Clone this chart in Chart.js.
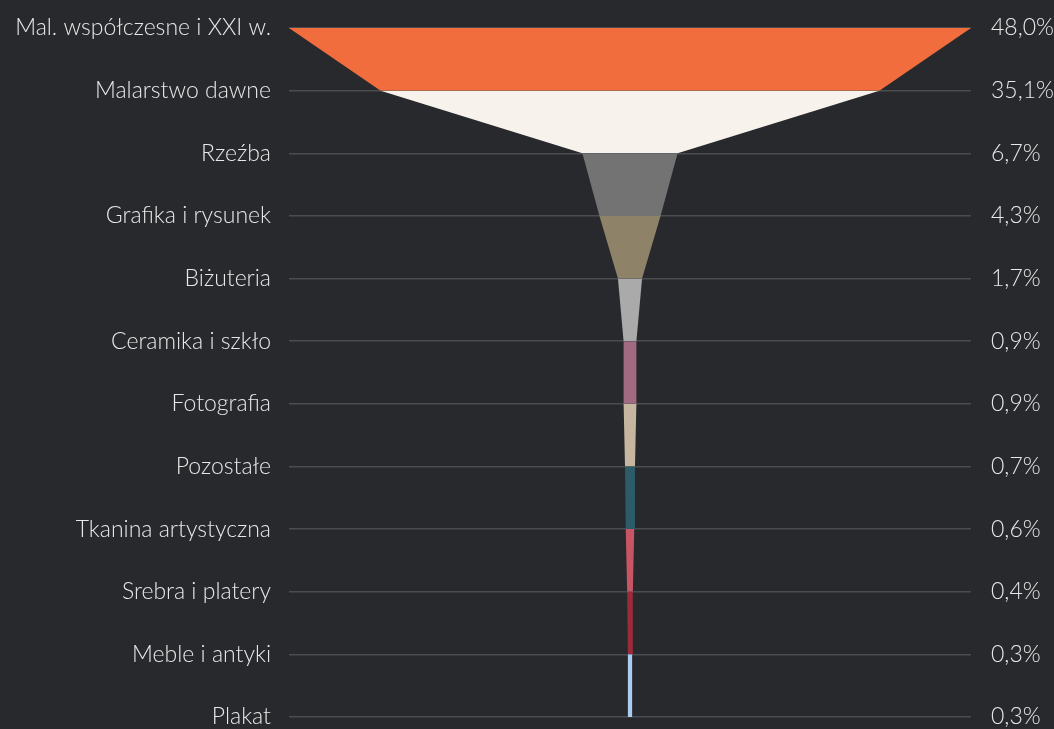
<!DOCTYPE html>
<html>
<head>
<meta charset="utf-8">
<script src="https://cdn.jsdelivr.net/npm/chart.js@4/dist/chart.umd.min.js"></script>
<style>
  html, body { margin: 0; padding: 0; background: #28292d; }
  #wrap { width: 1054px; height: 729px; }
</style>
</head>
<body>
<div id="wrap"><canvas id="funnel"></canvas></div>
<script>
const categories = [
    'Mal. współczesne i XXI w.', 'Malarstwo dawne', 'Rzeźba', 'Grafika i rysunek',
    'Biżuteria', 'Ceramika i szkło', 'Fotografia', 'Pozostałe',
    'Tkanina artystyczna', 'Srebra i platery', 'Meble i antyki', 'Plakat'
];
const shares = [48.0, 35.1, 6.7, 4.3, 1.7, 0.9, 0.9, 0.7, 0.6, 0.4, 0.3, 0.3];
const shareLabels = ['48,0%', '35,1%', '6,7%', '4,3%', '1,7%', '0,9%', '0,9%', '0,7%', '0,6%', '0,4%', '0,3%', '0,3%'];
const colors = [
    '#f26d3d', '#f7f2eb', '#737373', '#8e8269', '#aaaaaa', '#a06b81',
    '#c6b69f', '#2b5c68', '#c85563', '#9c2a3b', '#a8cdee', '#d0d0d0'
];

const font = { family: 'Lato', size: 23, weight: '300' };
const textColor = '#e8e8e8';

// lock the plot area to the same box as the original
const fitLeft = scale => { scale.width = 289; scale.paddingTop = 0; scale.paddingBottom = 0; };
const fitRight = scale => { scale.width = 83; scale.paddingTop = 0; scale.paddingBottom = 0; };

new Chart(document.getElementById('funnel'), {
    type: 'line',
    data: {
        labels: categories,
        datasets: [
            {
                label: 'right',
                data: shares.map(v => v / 2),
                borderWidth: 0,
                pointRadius: 0,
                fill: false
            },
            {
                label: 'left',
                data: shares.map(v => -v / 2),
                borderWidth: 0,
                pointRadius: 0,
                fill: '-1',
                backgroundColor: colors[0],
                segment: {
                    backgroundColor: ctx => colors[ctx.p0DataIndex]
                }
            }
        ]
    },
    options: {
        indexAxis: 'y',
        responsive: true,
        maintainAspectRatio: false,
        animation: false,
        layout: {
            padding: { top: 28, bottom: 12, left: 0, right: 0 }
        },
        scales: {
            x: {
                type: 'linear',
                min: -24,
                max: 24,
                display: false
            },
            y: {
                type: 'category',
                position: 'left',
                offset: false,
                afterFit: fitLeft,
                border: { display: false },
                grid: { color: '#4b4c51', lineWidth: 1.5, drawTicks: false },
                ticks: { color: textColor, font: font, padding: 18 }
            },
            y2: {
                type: 'category',
                position: 'right',
                labels: shareLabels,
                offset: false,
                afterFit: fitRight,
                border: { display: false },
                grid: { display: false, drawTicks: false },
                ticks: { color: textColor, font: font, padding: 20 }
            }
        },
        plugins: {
            legend: { display: false },
            tooltip: { enabled: false }
        }
    }
});
</script>
</body>
</html>
